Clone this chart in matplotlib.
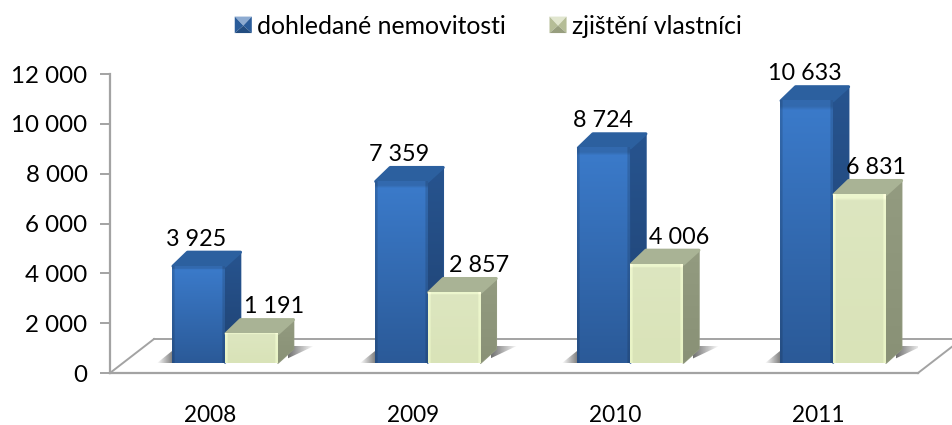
import numpy as np
import matplotlib
matplotlib.use('Agg')
import matplotlib.pyplot as plt
from matplotlib.colors import to_rgb
from matplotlib.legend_handler import HandlerBase
from matplotlib.patches import Polygon, Patch
from matplotlib.transforms import Affine2D, IdentityTransform

plt.rcParams['font.family'] = ['Lato', 'DejaVu Sans']

# data
years = ['2008', '2009', '2010', '2011']
nemovitosti = [3925, 7359, 8724, 10633]
vlastnici = [1191, 2857, 4006, 6831]
y_ticks = [0, 2000, 4000, 6000, 8000, 10000, 12000]
series_names = ['dohledané nemovitosti', 'zjištění vlastníci']

# small shifts of the labels, pixels, as placed in the original
blue_label_dx = [-2, -2, -1, -2]
green_label_dx = [23, 25, 22, 16]


def fmt(v):
    return f'{v:,}'.replace(',', ' ')


W, H = 952, 425
fig = plt.figure(figsize=(W / 100, H / 100), dpi=100)
ax = fig.add_axes([110 / W, (H - 373) / H, (918 - 110) / W, (373 - 74) / H])
ax.set_autoscale_on(False)
spacing = 202.7  # px per category
ax.set_xlim((110 - 210) / spacing, (918 - 210) / spacing)
ax.set_ylim(0, 12000)

# the bars stand on the floor, a bit behind the front edge
front = Affine2D().scale(1, 0.99) + ax.transData + Affine2D().translate(0, 10)
group_shift = 15 / spacing
bar_w = 53 / spacing
DX, DY = 15.5, 14
FLOOR_DX, FLOOR_DY = 44, 34
ID = IdentityTransform()

STYLE = {
    'blue': dict(top='#3b7bcb', bottom='#2b5a98', edge=0.86, lid='#2c609f',
                 side_top='#27548f', side_bottom='#1f4272'),
    'green': dict(top='#dde6c0', bottom='#d9e3b8', edge=1.07, lid='#a9b395',
                  side_top='#939b80', side_bottom='#899176'),
}


def v_grad(c_top, c_bottom, n=64):
    t = np.linspace(0, 1, n)[:, None, None]
    return (1 - t) * np.array(to_rgb(c_top))[None, None, :] + t * np.array(to_rgb(c_bottom))[None, None, :]


def shadow(poly, x0, x1, y0, y1, fade_right, z):
    a = np.linspace(0.8, 0, 64) if fade_right else np.linspace(0, 0.7, 64)
    img = np.zeros((2, 64, 4))
    img[..., :3] = 0.3
    img[..., 3] = a
    im = ax.imshow(img, extent=(x0, x1, y0, y1), aspect='auto', transform=ID,
                   interpolation='bilinear', zorder=z)
    p = Polygon(poly, closed=True, transform=ID, fc='none', ec='none', zorder=z)
    ax.add_patch(p)
    im.set_clip_path(p)


def draw_bar(x, v, st, z):
    (x0, y0), (x1, y1) = front.transform([(x, 0), (x + bar_w, v)])
    # side
    side = Polygon([(x1, y0), (x1 + DX, y0 + DY), (x1 + DX, y1 + DY), (x1, y1)], closed=True,
                   transform=ID, fc=st['side_bottom'], ec=st['side_top'], lw=1.2, joinstyle='round', zorder=z)
    ax.add_patch(side)
    sim = ax.imshow(v_grad(st['side_top'], st['side_bottom']), extent=(x1, x1 + DX, y0, y1 + DY), aspect='auto',
                    transform=ID, interpolation='bilinear', zorder=z)
    sim.set_clip_path(side)
    # lid
    ax.add_patch(Polygon([(x0 + 1, y1), (x1, y1), (x1 + DX, y1 + DY), (x0 + DX, y1 + DY)], closed=True,
                         transform=ID, fc=st['lid'], ec=st['lid'], lw=2.2, joinstyle='round', zorder=z))
    # front, edges a little darker or lighter than the middle
    img = np.repeat(v_grad(st['top'], st['bottom']), 40, axis=1)
    img[:, :2] *= st['edge']
    img[:, -2:] *= st['edge']
    img[:2, :] *= st['edge']
    ax.imshow(np.clip(img, 0, 1), extent=(x0, x1, y0, y1), aspect='auto', transform=ID,
              interpolation='bilinear', zorder=z + 0.1)


# floor
xa, xb = ax.get_xlim()
back = ax.transData + Affine2D().translate(FLOOR_DX, FLOOR_DY)
line_c = '#a3a3a3'
ax.plot([xa, xb], [0, 0], color=line_c, lw=1.4, transform=back, clip_on=False, zorder=1)
(px0, py0), (px1, _) = ax.transData.transform([(xa, 0), (xb, 0)])
for px in (px0, px1):
    ax.plot([px, px + FLOOR_DX], [py0, py0 + FLOOR_DY], color=line_c, lw=1.4, transform=ID, clip_on=False, zorder=1)

for i, (a, b) in enumerate(zip(nemovitosti, vlastnici)):
    xc = i + group_shift
    (x0, y0), (x1, _) = front.transform([(xc - bar_w, 0), (xc + bar_w, 0)])
    # floor shadows left and right of the pair
    shadow([(x0 - 15, y0), (x0, y0), (x0, y0 + 12)], x0 - 15, x0, y0, y0 + 12, False, 2)
    shadow([(x1, y0), (x1 + DX, y0 + DY + 3), (x1 + 36, y0 + 17)], x1 + 10, x1 + 36, y0, y0 + 17, True, 2)
    draw_bar(xc - bar_w, a, STYLE['blue'], 3 + i)
    draw_bar(xc, b, STYLE['green'], 3.4 + i)
    for x, v, dx in ((xc - bar_w / 2, a, blue_label_dx[i]), (xc + bar_w / 2, b, green_label_dx[i])):
        ax.annotate(fmt(v), (x, v), xycoords=front, xytext=(dx * 0.72, 27 * 0.72), textcoords='offset points',
                    ha='center', va='center', fontsize=16.8, color='black', zorder=20, annotation_clip=False)

for s in ('top', 'right'):
    ax.spines[s].set_visible(False)
for s in ('left', 'bottom'):
    ax.spines[s].set_color(line_c)
    ax.spines[s].set_linewidth(1.6)
ax.set_yticks(y_ticks)
ax.set_yticklabels([fmt(v) for v in y_ticks], fontsize=17.4)
ax.set_xticks(range(len(years)))
ax.set_xticklabels(years, fontsize=16.3)
ax.tick_params(axis='y', length=7.2, width=1.4, color=line_c, pad=9)
ax.tick_params(axis='x', length=0, pad=23)


class CubeHandler(HandlerBase):
    # legend key: a small square with four bevelled sides
    def create_artists(self, legend, orig_handle, xd, yd, width, height, fontsize, trans):
        c = np.array(orig_handle.get_facecolor()[:3])
        l, b, r, t = -xd, -yd, -xd + width, -yd + height
        mid = ((l + r) / 2, b + height * 0.45)
        faces = [([(l, t), (r, t), mid], c * 0.55 + 0.45),
                 ([(l, b), (l, t), mid], c * 0.9),
                 ([(r, b), (r, t), mid], c * 0.9),
                 ([(l, b), (r, b), mid], c * 0.75)]
        return [Polygon(p, closed=True, fc=col, ec='none', transform=trans) for p, col in faces]


handles = [Patch(fc='#2f66ab'), Patch(fc='#c9d2a8')]
fig.legend(handles, series_names, ncol=2, loc='center', bbox_to_anchor=(488 / W, (H - 26) / H), frameon=False,
           fontsize=17.8, handlelength=0.69, handleheight=0.65, handletextpad=0.2, columnspacing=1.78,
           handler_map={Patch: CubeHandler()})

fig.savefig('out.png', dpi=100)
